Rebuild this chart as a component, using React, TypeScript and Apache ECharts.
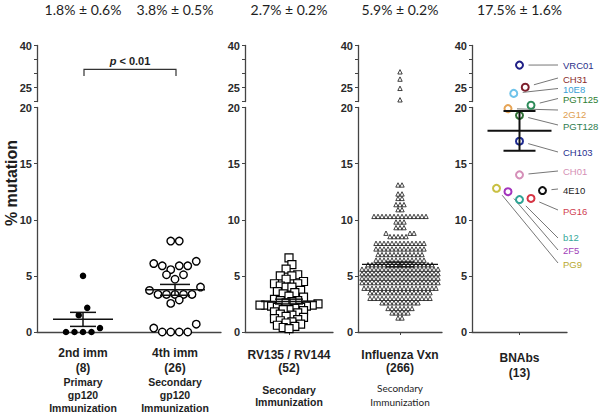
import React, { useEffect, useRef } from "react";
import * as echarts from "echarts";

// ---------------- data ----------------
const headerLabels = ["1.8% ± 0.6%", "3.8% ± 0.5%", "2.7% ± 0.2%", "5.9% ± 0.2%", "17.5% ± 1.6%"];

const panel1Categories = ["2nd imm", "4th imm"];
const panel1Counts = [8, 26];
const panel1Subtitles = [
  ["Primary", "gp120", "Immunization"],
  ["Secondary", "gp120", "Immunization"],
];
const imm2Values = [5.0, 2.15, 1.5, 0.35, 0, 0, 0, 0];
const imm4Values = [
  8.1, 8.1, 6.3, 6.1, 5.9, 5.9, 5.9, 5.55, 5.1, 5.1, 4.7, 4.0, 3.7,
  3.35, 3.35, 3.35, 3.35, 3.35, 2.85, 2.55, 0.7, 0.35, 0, 0, 0, 0,
];

const rvCategory = "RV135 / RV144";
const rvCount = 52;
const rvValues = [
  6.6, 6.0, 5.6, 5.1, 5.0, 5.0, 4.7, 4.5, 4.3, 4.3, 4.1, 4.0, 4.0,
  3.7, 3.6, 3.5, 3.4, 3.2, 3.1, 2.9, 2.8, 2.8, 2.7, 2.6, 2.5,
  2.4, 2.4, 2.4, 2.3, 2.3, 2.2, 2.2, 2.1, 2.0, 2.0, 1.9, 1.8, 1.7, 1.6, 1.5, 1.4,
  1.3, 1.2, 1.1, 1.0, 0.9, 0.8, 0.7, 0.6, 0.5, 0.4, 0.3,
];

const fluCategory = "Influenza Vxn";
const fluCount = 266;
const fluValues = [
  30.6, 28.0, 24.7, 20.6,
  13.1, 13.1,
  12.3, 12.3,
  11.9, 11.9,
  11.35, 11.35, 11.35,
  10.9, 10.9,
  10.3, 10.3, 10.3, 10.3, 10.3, 10.3, 10.3, 10.3, 10.3, 10.3, 10.3, 10.3, 10.3, 10.3,
  9.8, 9.8, 9.8,
  9.3, 9.3, 9.3,
  8.8, 8.8, 8.8,
  8.5, 8.5, 8.5, 8.5, 8.5,
  7.9, 7.9, 7.9, 7.9, 7.9, 7.9, 7.9, 7.9, 7.9, 7.9, 7.9, 7.9, 7.9,
  7.4, 7.4, 7.4, 7.4, 7.4, 7.4, 7.4, 7.4, 7.4, 7.4, 7.4, 7.4, 7.4,
  6.9, 6.9, 6.9, 6.9, 6.9, 6.9, 6.9, 6.9, 6.9, 6.9, 6.9, 6.9,
  6.4, 6.4, 6.4, 6.4, 6.4, 6.4, 6.4, 6.4, 6.4, 6.4, 6.4, 6.4, 6.4,
  6.0, 6.0, 6.0, 6.0, 6.0, 6.0, 6.0, 6.0, 6.0, 6.0, 6.0, 6.0, 6.0, 6.0, 6.0, 6.0, 6.0,
  5.6, 5.6, 5.6, 5.6, 5.6, 5.6, 5.6, 5.6, 5.6, 5.6, 5.6, 5.6, 5.6, 5.6, 5.6, 5.6, 5.6, 5.6, 5.6, 5.6,
  5.2, 5.2, 5.2, 5.2, 5.2, 5.2, 5.2, 5.2, 5.2, 5.2, 5.2, 5.2, 5.2, 5.2, 5.2, 5.2, 5.2, 5.2, 5.2, 5.2,
  4.8, 4.8, 4.8, 4.8, 4.8, 4.8, 4.8, 4.8, 4.8, 4.8, 4.8, 4.8, 4.8, 4.8, 4.8, 4.8, 4.8, 4.8, 4.8, 4.8,
  4.4, 4.4, 4.4, 4.4, 4.4, 4.4, 4.4, 4.4, 4.4, 4.4, 4.4, 4.4, 4.4, 4.4, 4.4, 4.4, 4.4, 4.4, 4.4, 4.4,
  3.9, 3.9, 3.9, 3.9, 3.9, 3.9, 3.9, 3.9, 3.9, 3.9, 3.9, 3.9, 3.9, 3.9, 3.9, 3.9, 3.9, 3.9, 3.9,
  3.5, 3.5, 3.5, 3.5, 3.5, 3.5, 3.5, 3.5, 3.5, 3.5, 3.5, 3.5, 3.5, 3.5, 3.5, 3.5,
  3.0, 3.0, 3.0, 3.0, 3.0, 3.0, 3.0, 3.0, 3.0, 3.0, 3.0, 3.0, 3.0, 3.0, 3.0, 3.0,
  2.6, 2.6, 2.6, 2.6, 2.6, 2.6, 2.6, 2.6, 2.6, 2.6,
  2.1, 2.1, 2.1, 2.1, 2.1, 2.1, 2.1,
  1.7, 1.7, 1.7, 1.7, 1.7,
  1.25, 1.25,
];

const secondarySubtitle = ["Secondary", "Immunization"];

const bnabCategory = "BNAbs";
const bnabCount = 13;
const bnabNames = ["VRC01", "10E8", "CH31", "PGT128", "2G12", "PGT125", "CH103", "CH01", "b12", "2F5", "PG16", "PG9", "4E10"];
const bnabValues = [33.0, 22.9, 25.1, 19.3, 19.9, 20.2, 17.0, 14.0, 11.8, 12.5, 11.9, 12.8, 12.6];
const bnabColors = ["#1f1f86", "#6fc3ea", "#7d1f2c", "#2f6f34", "#e6a455", "#2e8b5a", "#1f2c92", "#d58fb8", "#2fa596", "#a334bd", "#d63444", "#c9c043", "#111111"];
const bnabTextColors = ["#2b2f8a", "#3a9fd6", "#8a2b2b", "#2e7d4f", "#e0a050", "#2e7d32", "#1f2f8f", "#d58fb5", "#35a89a", "#a040b8", "#d04050", "#b8a830", "#222222"];

const upperLabelTicks = [25, 40];
const upperTicks = [20, 25, 30, 35, 40];

// ---------------- layout ----------------
const FONT_ARIAL = "'Liberation Sans', Arial, sans-serif";
const FONT_SOFT = "Lato, 'Open Sans', sans-serif";
const AXIS_COLOR = "#444";
const TEXT_COLOR = "#1e1e1e";

const UP_TOP = 45.5, UP_BOT = 101.5, LO_TOP = 107.5, LO_BOT = 332;
const UP_MIN = 20, UP_MAX = 40, LO_MIN = 0, LO_MAX = 20, BREAK = 20.5;

function yPx(v: number) {
  if (v > BREAK) return UP_BOT - ((v - UP_MIN) / (UP_MAX - UP_MIN)) * (UP_BOT - UP_TOP);
  return LO_BOT - ((v - LO_MIN) / (LO_MAX - LO_MIN)) * (LO_BOT - LO_TOP);
}

type Panel = { left: number; width: number; min: number; max: number };
const panels: Panel[] = [
  { left: 37, width: 184, min: -0.5, max: 1.5 },
  { left: 245, width: 88, min: -0.5, max: 0.5 },
  { left: 358, width: 84, min: -0.5, max: 0.5 },
  { left: 472, width: 95, min: -0.5, max: 0.5 },
];
const headerOffsets = [0, 2, 3, 4];

function xPx(p: Panel, v: number) {
  return p.left + ((v - p.min) / (p.max - p.min)) * p.width;
}

type Placed = { idx: number; v: number; py: number; px: number; xVal: number };
function swarm(values: number[], panel: Panel, cat: number, binH: number, step: number, byValue: boolean): Placed[] {
  const ppu = panel.width / (panel.max - panel.min);
  const cpx = xPx(panel, cat);
  const items = values.map((v, idx) => ({ idx, v, py: yPx(v) }));
  const sorted = [...items].sort((a, b) => a.py - b.py || a.idx - b.idx);
  const bins: typeof items[] = [];
  let cur: typeof items = [];
  for (const it of sorted) {
    if (cur.length && it.py - cur[0].py > binH) {
      bins.push(cur);
      cur = [];
    }
    cur.push(it);
  }
  if (cur.length) bins.push(cur);
  const out: Placed[] = [];
  for (const bin of bins) {
    const order = [...bin].sort(byValue ? (a, b) => a.v - b.v || a.idx - b.idx : (a, b) => a.idx - b.idx);
    const n = order.length;
    const slots = order.map((_, k) => k - (n - 1) / 2).sort((a, b) => Math.abs(a) - Math.abs(b) || a - b);
    order.forEach((it, j) => {
      const off = slots[j] * step;
      out.push({ ...it, px: cpx + off, xVal: cat + off / ppu });
    });
  }
  return out.sort((a, b) => a.idx - b.idx);
}

function meanSem(values: number[]) {
  const n = values.length;
  const m = values.reduce((s, v) => s + v, 0) / n;
  const sd = Math.sqrt(values.reduce((s, v) => s + (v - m) * (v - m), 0) / (n - 1));
  return [m, sd / Math.sqrt(n)];
}

type Group = {
  panel: number; cat: number; values: number[]; symbol: string; size: number;
  fill: string; stroke: string; lw: number; colors?: string[];
  binH: number; step: number; byValue: boolean; meanHalf: number; whiskHalf: number; statLw: number;
};

const groups: Group[] = [
  { panel: 0, cat: 0, values: imm2Values, symbol: "circle", size: 6.5, fill: "#000", stroke: "#000", lw: 0, binH: 8.5, step: 8.5, byValue: true, meanHalf: 30, whiskHalf: 13, statLw: 1.5 },
  { panel: 0, cat: 1, values: imm4Values, symbol: "circle", size: 7.5, fill: "#fff", stroke: "#000", lw: 1.4, binH: 8.5, step: 8.5, byValue: true, meanHalf: 30, whiskHalf: 15, statLw: 1.5 },
  { panel: 1, cat: 0, values: rvValues, symbol: "rect", size: 8, fill: "#fff", stroke: "#000", lw: 1.2, binH: 6, step: 5.8, byValue: true, meanHalf: 28, whiskHalf: 14, statLw: 1.5 },
  { panel: 2, cat: 0, values: fluValues, symbol: "triangle", size: 4.4, fill: "#fff", stroke: "#111", lw: 0.8, binH: 4, step: 4, byValue: true, meanHalf: 38, whiskHalf: 14, statLw: 1.3 },
  { panel: 3, cat: 0, values: bnabValues, symbol: "circle", size: 7, fill: "#fff", stroke: "#000", lw: 2, colors: bnabColors, binH: 12, step: 11.5, byValue: false, meanHalf: 32, whiskHalf: 16, statLw: 2 },
];

// annotation positions for BNAbs labels: [text y, leader end y]
const bnabLabelPos: Record<string, [number, number]> = {
  VRC01: [65, 65], CH31: [79, 78], "10E8": [89, 88.5], PGT125: [99, 98.5], "2G12": [114.5, 110],
  PGT128: [126, 125], CH103: [152, 152], CH01: [171, 171], "4E10": [190, 189], PG16: [211, 210],
  b12: [237.5, 238], "2F5": [250.5, 250], PG9: [264, 263],
};
const LABEL_X = 563, LEADER_END_X = 558;

function buildOption() {
  const grid: any[] = [];
  const xAxis: any[] = [];
  const yAxis: any[] = [];
  const series: any[] = [];
  const graphic: any[] = [];

  const boldA = (size: number, lh: number) => ({ fontFamily: FONT_ARIAL, fontWeight: "bold", fontSize: size, lineHeight: lh, color: TEXT_COLOR });

  const lowerLabels: any[] = [
    {
      customValues: [0, 1], margin: 13,
      formatter: (v: number) => {
        const i = Math.round(v);
        return [`{a|${panel1Categories[i]}}`, `{a|(${panel1Counts[i]})}`, ...panel1Subtitles[i].map((s) => `{b|${s}}`)].join("\n");
      },
      rich: { a: boldA(12, 15), b: boldA(10.5, 13) },
    },
    { customValues: [0], margin: 16, formatter: () => `{a|${rvCategory}}\n{a|(${rvCount})}`, rich: { a: boldA(12, 13) } },
    { customValues: [0], margin: 16, formatter: () => `{a|${fluCategory}}\n{a|(${fluCount})}`, rich: { a: boldA(12, 13) } },
    { customValues: [0], margin: 18.5, formatter: () => `{a|${bnabCategory}}\n{a|(${bnabCount})}`, rich: { a: boldA(12, 15) } },
  ];
  const lowerNames: any[] = [
    null,
    { name: secondarySubtitle.join("\n"), nameGap: 52, nameTextStyle: boldA(10.5, 12) },
    { name: secondarySubtitle.join("\n"), nameGap: 49, nameTextStyle: { fontFamily: FONT_SOFT, fontSize: 10, lineHeight: 14, color: TEXT_COLOR } },
    null,
  ];

  panels.forEach((p, i) => {
    const gu = 2 * i, gl = 2 * i + 1;
    grid.push({ left: p.left, width: p.width, top: UP_TOP, height: UP_BOT - UP_TOP, outerBoundsMode: "none" });
    grid.push({ left: p.left, width: p.width, top: LO_TOP, height: LO_BOT - LO_TOP, outerBoundsMode: "none" });
    const cats = i === 0 ? [0, 1] : [0];
    xAxis.push({
      type: "value", gridIndex: gu, position: "top", min: p.min, max: p.max,
      axisLine: { show: false, onZero: false }, axisTick: { show: false }, splitLine: { show: false },
      axisLabel: {
        customValues: cats, margin: 29, fontFamily: FONT_SOFT, fontSize: 14, color: TEXT_COLOR,
        formatter: (v: number) => headerLabels[headerOffsets[i] + Math.round(v)],
      },
    });
    const nm = lowerNames[i];
    xAxis.push({
      type: "value", gridIndex: gl, position: "bottom", min: p.min, max: p.max,
      axisLine: { show: true, onZero: false, lineStyle: { color: AXIS_COLOR, width: 1.3 } },
      axisTick: { show: i !== 0, customValues: [0], length: 3, lineStyle: { color: AXIS_COLOR } },
      splitLine: { show: false },
      axisLabel: lowerLabels[i],
      ...(nm ? { name: nm.name, nameLocation: "middle", nameGap: nm.nameGap, nameTextStyle: nm.nameTextStyle } : {}),
    });
    const yLabel = { fontFamily: FONT_ARIAL, fontWeight: "bold", fontSize: 11, color: "#2a2a2a", margin: 5 };
    yAxis.push({
      type: "value", gridIndex: gu, min: UP_MIN, max: UP_MAX, interval: 5,
      axisLine: { show: true, onZero: false, lineStyle: { color: AXIS_COLOR, width: 1.3 } },
      axisTick: { show: true, customValues: upperTicks, length: 3, lineStyle: { color: AXIS_COLOR } },
      splitLine: { show: false },
      axisLabel: { ...yLabel, customValues: upperLabelTicks },
    });
    yAxis.push({
      type: "value", gridIndex: gl, min: LO_MIN, max: LO_MAX, interval: 5,
      axisLine: { show: true, onZero: false, lineStyle: { color: AXIS_COLOR, width: 1.3 } },
      axisTick: { show: true, length: 3, lineStyle: { color: AXIS_COLOR } },
      splitLine: { show: false },
      axisLabel: yLabel,
    });
  });

  groups.forEach((g) => {
    const p = panels[g.panel];
    const placed = swarm(g.values, p, g.cat, g.binH, g.step, g.byValue);
    const mk = (pt: Placed) => ({
      value: [pt.xVal, pt.v],
      itemStyle: g.colors ? { borderColor: g.colors[pt.idx] } : undefined,
    });
    const upper = placed.filter((pt) => pt.v > BREAK).map(mk);
    const lower = placed.filter((pt) => pt.v <= BREAK).map(mk);
    const base = {
      type: "scatter", symbol: g.symbol, symbolSize: g.size, silent: true, clip: false, z: 3,
      itemStyle: { color: g.fill, borderColor: g.stroke, borderWidth: g.lw, opacity: 1 },
    };
    if (upper.length) series.push({ ...base, xAxisIndex: 2 * g.panel, yAxisIndex: 2 * g.panel, data: upper });
    series.push({ ...base, xAxisIndex: 2 * g.panel + 1, yAxisIndex: 2 * g.panel + 1, data: lower });

    const [m, s] = meanSem(g.values);
    series.push({
      type: "custom", xAxisIndex: 2 * g.panel + 1, yAxisIndex: 2 * g.panel + 1, silent: true, z: 5,
      data: [[g.cat, m, s]],
      renderItem: (params: any, api: any) => {
        const x = api.value(0), mv = api.value(1), sv = api.value(2);
        const c = api.coord([x, mv]);
        const t = api.coord([x, mv + sv])[1];
        const b = api.coord([x, mv - sv])[1];
        const st = { stroke: "#111", lineWidth: g.statLw };
        return {
          type: "group",
          children: [
            { type: "line", shape: { x1: c[0] - g.meanHalf, y1: c[1], x2: c[0] + g.meanHalf, y2: c[1] }, style: st },
            { type: "line", shape: { x1: c[0] - g.whiskHalf, y1: t, x2: c[0] + g.whiskHalf, y2: t }, style: st },
            { type: "line", shape: { x1: c[0] - g.whiskHalf, y1: b, x2: c[0] + g.whiskHalf, y2: b }, style: st },
            { type: "line", shape: { x1: c[0], y1: t, x2: c[0], y2: b }, style: st },
          ],
        };
      },
    });

    if (g.colors) {
      placed.forEach((pt) => {
        const name = bnabNames[pt.idx];
        const pos = bnabLabelPos[name];
        if (!pos) return;
        const [ty, ey] = pos;
        const dx = LEADER_END_X - pt.px, dy = ey - pt.py;
        const len = Math.sqrt(dx * dx + dy * dy) || 1;
        const gap = 9;
        graphic.push({
          type: "line", silent: true,
          shape: { x1: pt.px + (dx / len) * gap, y1: pt.py + (dy / len) * gap, x2: LEADER_END_X, y2: ey },
          style: { stroke: "#777", lineWidth: 1 },
        });
        graphic.push({
          type: "text", silent: true, x: LABEL_X, y: ty,
          style: { text: name, fill: bnabTextColors[pt.idx], font: `9.5px ${FONT_ARIAL}`, align: "left", verticalAlign: "middle" },
        });
      });
    }
  });

  // y axis title
  graphic.push({
    type: "text", silent: true, x: 11, y: 183, rotation: Math.PI / 2,
    style: { text: "% mutation", fill: TEXT_COLOR, font: `bold 16px ${FONT_ARIAL}`, align: "center", verticalAlign: "middle" },
  });
  // significance bracket
  const bx0 = xPx(panels[0], 0) + 1, bx1 = xPx(panels[0], 1) + 1;
  graphic.push({
    type: "polyline", silent: true,
    shape: { points: [[bx0, 76], [bx0, 69.3], [bx1, 69.3], [bx1, 76]] },
    style: { stroke: "#333", lineWidth: 1.2, fill: null },
  });
  graphic.push({
    type: "text", silent: true, x: (bx0 + bx1) / 2, y: 61,
    style: {
      text: "{i|p}{n| < 0.01}", align: "center", verticalAlign: "middle",
      rich: {
        i: { fontFamily: FONT_ARIAL, fontWeight: "bold", fontStyle: "italic", fontSize: 11, fill: TEXT_COLOR },
        n: { fontFamily: FONT_ARIAL, fontWeight: "bold", fontSize: 11, fill: TEXT_COLOR },
      },
    },
  });

  return { animation: false, backgroundColor: "#fff", grid, xAxis, yAxis, series, graphic };
}

export default function App() {
  const ref = useRef<HTMLDivElement>(null);
  useEffect(() => {
    if (!ref.current) return;
    const chart = echarts.init(ref.current, null, { renderer: "svg" });
    chart.setOption(buildOption() as any);
    return () => chart.dispose();
  }, []);
  return <div ref={ref} style={{ position: "fixed", left: 0, top: 0, width: 600, height: 414, background: "#fff" }} />;
}
